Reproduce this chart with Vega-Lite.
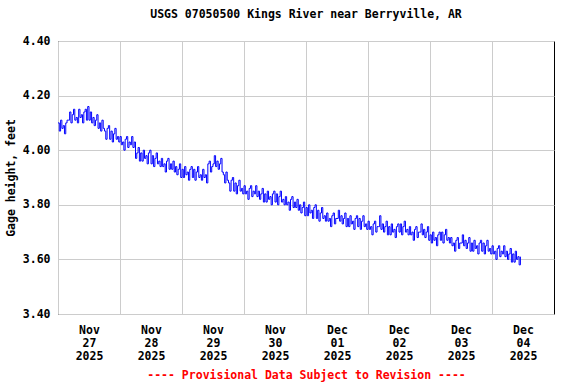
{
"$schema": "https://vega.github.io/schema/vega-lite/v6.json",
"width": 496, "height": 273,
"autosize": "none",
"padding": {"left": 58, "top": 41, "right": 22, "bottom": 70},
"background": "white",
"title": {"text": "USGS 07050500 Kings River near Berryville, AR", "font": "DejaVu Sans Mono", "fontWeight": "bold", "fontSize": 11.5, "color": "black", "anchor": "middle", "offset": 15},
"config": {"view": {"stroke": "black", "strokeWidth": 1}},
"data": {"values": [
{"t":"2025-11-27T00:00","v":4.10},{"t":"2025-11-27T00:30","v":4.07},{"t":"2025-11-27T01:00","v":4.11},{"t":"2025-11-27T01:30","v":4.08},{"t":"2025-11-27T02:00","v":4.09},{"t":"2025-11-27T02:30","v":4.06},{"t":"2025-11-27T03:00","v":4.10},{"t":"2025-11-27T03:30","v":4.11},
{"t":"2025-11-27T04:00","v":4.11},{"t":"2025-11-27T04:30","v":4.14},{"t":"2025-11-27T05:00","v":4.10},{"t":"2025-11-27T05:30","v":4.13},{"t":"2025-11-27T06:00","v":4.15},{"t":"2025-11-27T06:30","v":4.11},{"t":"2025-11-27T07:00","v":4.12},{"t":"2025-11-27T07:30","v":4.10},
{"t":"2025-11-27T08:00","v":4.15},{"t":"2025-11-27T08:30","v":4.12},{"t":"2025-11-27T09:00","v":4.13},{"t":"2025-11-27T09:30","v":4.10},{"t":"2025-11-27T10:00","v":4.14},{"t":"2025-11-27T10:30","v":4.15},{"t":"2025-11-27T11:00","v":4.11},{"t":"2025-11-27T11:30","v":4.16},
{"t":"2025-11-27T12:00","v":4.11},{"t":"2025-11-27T12:30","v":4.14},{"t":"2025-11-27T13:00","v":4.10},{"t":"2025-11-27T13:30","v":4.12},{"t":"2025-11-27T14:00","v":4.09},{"t":"2025-11-27T14:30","v":4.11},{"t":"2025-11-27T15:00","v":4.13},{"t":"2025-11-27T15:30","v":4.08},
{"t":"2025-11-27T16:00","v":4.10},{"t":"2025-11-27T16:30","v":4.07},{"t":"2025-11-27T17:00","v":4.11},{"t":"2025-11-27T17:30","v":4.08},{"t":"2025-11-27T18:00","v":4.07},{"t":"2025-11-27T18:30","v":4.04},{"t":"2025-11-27T19:00","v":4.08},{"t":"2025-11-27T19:30","v":4.09},
{"t":"2025-11-27T20:00","v":4.04},{"t":"2025-11-27T20:30","v":4.07},{"t":"2025-11-27T21:00","v":4.03},{"t":"2025-11-27T21:30","v":4.06},{"t":"2025-11-27T22:00","v":4.08},{"t":"2025-11-27T22:30","v":4.04},{"t":"2025-11-27T23:00","v":4.05},{"t":"2025-11-27T23:30","v":4.03},
{"t":"2025-11-28T00:00","v":4.05},{"t":"2025-11-28T00:30","v":4.02},{"t":"2025-11-28T01:00","v":4.03},{"t":"2025-11-28T01:30","v":4.00},{"t":"2025-11-28T02:00","v":4.04},{"t":"2025-11-28T02:30","v":4.05},{"t":"2025-11-28T03:00","v":4.01},{"t":"2025-11-28T03:30","v":4.03},
{"t":"2025-11-28T04:00","v":4.02},{"t":"2025-11-28T04:30","v":4.05},{"t":"2025-11-28T05:00","v":4.01},{"t":"2025-11-28T05:30","v":4.03},{"t":"2025-11-28T06:00","v":3.97},{"t":"2025-11-28T06:30","v":3.99},{"t":"2025-11-28T07:00","v":4.01},{"t":"2025-11-28T07:30","v":3.96},
{"t":"2025-11-28T08:00","v":3.99},{"t":"2025-11-28T08:30","v":3.96},{"t":"2025-11-28T09:00","v":4.00},{"t":"2025-11-28T09:30","v":3.97},{"t":"2025-11-28T10:00","v":3.98},{"t":"2025-11-28T10:30","v":3.95},{"t":"2025-11-28T11:00","v":3.99},{"t":"2025-11-28T11:30","v":4.00},
{"t":"2025-11-28T12:00","v":3.95},{"t":"2025-11-28T12:30","v":3.98},{"t":"2025-11-28T13:00","v":3.94},{"t":"2025-11-28T13:30","v":3.97},{"t":"2025-11-28T14:00","v":3.99},{"t":"2025-11-28T14:30","v":3.95},{"t":"2025-11-28T15:00","v":3.96},{"t":"2025-11-28T15:30","v":3.94},
{"t":"2025-11-28T16:00","v":3.97},{"t":"2025-11-28T16:30","v":3.94},{"t":"2025-11-28T17:00","v":3.95},{"t":"2025-11-28T17:30","v":3.92},{"t":"2025-11-28T18:00","v":3.96},{"t":"2025-11-28T18:30","v":3.97},{"t":"2025-11-28T19:00","v":3.93},{"t":"2025-11-28T19:30","v":3.95},
{"t":"2025-11-28T20:00","v":3.93},{"t":"2025-11-28T20:30","v":3.96},{"t":"2025-11-28T21:00","v":3.92},{"t":"2025-11-28T21:30","v":3.94},{"t":"2025-11-28T22:00","v":3.91},{"t":"2025-11-28T22:30","v":3.93},{"t":"2025-11-28T23:00","v":3.95},{"t":"2025-11-28T23:30","v":3.90},
{"t":"2025-11-29T00:00","v":3.93},{"t":"2025-11-29T00:30","v":3.90},{"t":"2025-11-29T01:00","v":3.94},{"t":"2025-11-29T01:30","v":3.91},{"t":"2025-11-29T02:00","v":3.92},{"t":"2025-11-29T02:30","v":3.89},{"t":"2025-11-29T03:00","v":3.93},{"t":"2025-11-29T03:30","v":3.94},
{"t":"2025-11-29T04:00","v":3.90},{"t":"2025-11-29T04:30","v":3.93},{"t":"2025-11-29T05:00","v":3.89},{"t":"2025-11-29T05:30","v":3.92},{"t":"2025-11-29T06:00","v":3.94},{"t":"2025-11-29T06:30","v":3.90},{"t":"2025-11-29T07:00","v":3.91},{"t":"2025-11-29T07:30","v":3.89},
{"t":"2025-11-29T08:00","v":3.93},{"t":"2025-11-29T08:30","v":3.90},{"t":"2025-11-29T09:00","v":3.91},{"t":"2025-11-29T09:30","v":3.88},{"t":"2025-11-29T10:00","v":3.95},{"t":"2025-11-29T10:30","v":3.96},{"t":"2025-11-29T11:00","v":3.92},{"t":"2025-11-29T11:30","v":3.94},
{"t":"2025-11-29T12:00","v":3.95},{"t":"2025-11-29T12:30","v":3.98},{"t":"2025-11-29T13:00","v":3.94},{"t":"2025-11-29T13:30","v":3.96},{"t":"2025-11-29T14:00","v":3.93},{"t":"2025-11-29T14:30","v":3.95},{"t":"2025-11-29T15:00","v":3.97},{"t":"2025-11-29T15:30","v":3.92},
{"t":"2025-11-29T16:00","v":3.91},{"t":"2025-11-29T16:30","v":3.88},{"t":"2025-11-29T17:00","v":3.92},{"t":"2025-11-29T17:30","v":3.89},{"t":"2025-11-29T18:00","v":3.88},{"t":"2025-11-29T18:30","v":3.85},{"t":"2025-11-29T19:00","v":3.89},{"t":"2025-11-29T19:30","v":3.90},
{"t":"2025-11-29T20:00","v":3.85},{"t":"2025-11-29T20:30","v":3.88},{"t":"2025-11-29T21:00","v":3.84},{"t":"2025-11-29T21:30","v":3.87},{"t":"2025-11-29T22:00","v":3.89},{"t":"2025-11-29T22:30","v":3.85},{"t":"2025-11-29T23:00","v":3.86},{"t":"2025-11-29T23:30","v":3.84},
{"t":"2025-11-30T00:00","v":3.87},{"t":"2025-11-30T00:30","v":3.84},{"t":"2025-11-30T01:00","v":3.85},{"t":"2025-11-30T01:30","v":3.82},{"t":"2025-11-30T02:00","v":3.86},{"t":"2025-11-30T02:30","v":3.87},{"t":"2025-11-30T03:00","v":3.83},{"t":"2025-11-30T03:30","v":3.85},
{"t":"2025-11-30T04:00","v":3.84},{"t":"2025-11-30T04:30","v":3.87},{"t":"2025-11-30T05:00","v":3.83},{"t":"2025-11-30T05:30","v":3.85},{"t":"2025-11-30T06:00","v":3.82},{"t":"2025-11-30T06:30","v":3.84},{"t":"2025-11-30T07:00","v":3.86},{"t":"2025-11-30T07:30","v":3.81},
{"t":"2025-11-30T08:00","v":3.84},{"t":"2025-11-30T08:30","v":3.81},{"t":"2025-11-30T09:00","v":3.85},{"t":"2025-11-30T09:30","v":3.82},{"t":"2025-11-30T10:00","v":3.83},{"t":"2025-11-30T10:30","v":3.80},{"t":"2025-11-30T11:00","v":3.84},{"t":"2025-11-30T11:30","v":3.85},
{"t":"2025-11-30T12:00","v":3.81},{"t":"2025-11-30T12:30","v":3.84},{"t":"2025-11-30T13:00","v":3.80},{"t":"2025-11-30T13:30","v":3.83},{"t":"2025-11-30T14:00","v":3.85},{"t":"2025-11-30T14:30","v":3.81},{"t":"2025-11-30T15:00","v":3.82},{"t":"2025-11-30T15:30","v":3.80},
{"t":"2025-11-30T16:00","v":3.83},{"t":"2025-11-30T16:30","v":3.80},{"t":"2025-11-30T17:00","v":3.81},{"t":"2025-11-30T17:30","v":3.78},{"t":"2025-11-30T18:00","v":3.82},{"t":"2025-11-30T18:30","v":3.83},{"t":"2025-11-30T19:00","v":3.79},{"t":"2025-11-30T19:30","v":3.81},
{"t":"2025-11-30T20:00","v":3.79},{"t":"2025-11-30T20:30","v":3.82},{"t":"2025-11-30T21:00","v":3.78},{"t":"2025-11-30T21:30","v":3.80},{"t":"2025-11-30T22:00","v":3.77},{"t":"2025-11-30T22:30","v":3.79},{"t":"2025-11-30T23:00","v":3.81},{"t":"2025-11-30T23:30","v":3.76},
{"t":"2025-12-01T00:00","v":3.79},{"t":"2025-12-01T00:30","v":3.76},{"t":"2025-12-01T01:00","v":3.80},{"t":"2025-12-01T01:30","v":3.77},{"t":"2025-12-01T02:00","v":3.78},{"t":"2025-12-01T02:30","v":3.75},{"t":"2025-12-01T03:00","v":3.79},{"t":"2025-12-01T03:30","v":3.80},
{"t":"2025-12-01T04:00","v":3.75},{"t":"2025-12-01T04:30","v":3.78},{"t":"2025-12-01T05:00","v":3.74},{"t":"2025-12-01T05:30","v":3.77},{"t":"2025-12-01T06:00","v":3.79},{"t":"2025-12-01T06:30","v":3.75},{"t":"2025-12-01T07:00","v":3.76},{"t":"2025-12-01T07:30","v":3.74},
{"t":"2025-12-01T08:00","v":3.77},{"t":"2025-12-01T08:30","v":3.74},{"t":"2025-12-01T09:00","v":3.75},{"t":"2025-12-01T09:30","v":3.72},{"t":"2025-12-01T10:00","v":3.76},{"t":"2025-12-01T10:30","v":3.77},{"t":"2025-12-01T11:00","v":3.73},{"t":"2025-12-01T11:30","v":3.75},
{"t":"2025-12-01T12:00","v":3.75},{"t":"2025-12-01T12:30","v":3.78},{"t":"2025-12-01T13:00","v":3.74},{"t":"2025-12-01T13:30","v":3.76},{"t":"2025-12-01T14:00","v":3.73},{"t":"2025-12-01T14:30","v":3.75},{"t":"2025-12-01T15:00","v":3.77},{"t":"2025-12-01T15:30","v":3.72},
{"t":"2025-12-01T16:00","v":3.75},{"t":"2025-12-01T16:30","v":3.72},{"t":"2025-12-01T17:00","v":3.76},{"t":"2025-12-01T17:30","v":3.73},{"t":"2025-12-01T18:00","v":3.74},{"t":"2025-12-01T18:30","v":3.71},{"t":"2025-12-01T19:00","v":3.75},{"t":"2025-12-01T19:30","v":3.76},
{"t":"2025-12-01T20:00","v":3.72},{"t":"2025-12-01T20:30","v":3.75},{"t":"2025-12-01T21:00","v":3.71},{"t":"2025-12-01T21:30","v":3.74},{"t":"2025-12-01T22:00","v":3.76},{"t":"2025-12-01T22:30","v":3.72},{"t":"2025-12-01T23:00","v":3.73},{"t":"2025-12-01T23:30","v":3.71},
{"t":"2025-12-02T00:00","v":3.74},{"t":"2025-12-02T00:30","v":3.71},{"t":"2025-12-02T01:00","v":3.72},{"t":"2025-12-02T01:30","v":3.69},{"t":"2025-12-02T02:00","v":3.73},{"t":"2025-12-02T02:30","v":3.74},{"t":"2025-12-02T03:00","v":3.70},{"t":"2025-12-02T03:30","v":3.72},
{"t":"2025-12-02T04:00","v":3.72},{"t":"2025-12-02T04:30","v":3.76},{"t":"2025-12-02T05:00","v":3.71},{"t":"2025-12-02T05:30","v":3.73},{"t":"2025-12-02T06:00","v":3.70},{"t":"2025-12-02T06:30","v":3.72},{"t":"2025-12-02T07:00","v":3.74},{"t":"2025-12-02T07:30","v":3.69},
{"t":"2025-12-02T08:00","v":3.72},{"t":"2025-12-02T08:30","v":3.69},{"t":"2025-12-02T09:00","v":3.73},{"t":"2025-12-02T09:30","v":3.70},{"t":"2025-12-02T10:00","v":3.71},{"t":"2025-12-02T10:30","v":3.68},{"t":"2025-12-02T11:00","v":3.72},{"t":"2025-12-02T11:30","v":3.73},
{"t":"2025-12-02T12:00","v":3.70},{"t":"2025-12-02T12:30","v":3.73},{"t":"2025-12-02T13:00","v":3.69},{"t":"2025-12-02T13:30","v":3.72},{"t":"2025-12-02T14:00","v":3.74},{"t":"2025-12-02T14:30","v":3.70},{"t":"2025-12-02T15:00","v":3.71},{"t":"2025-12-02T15:30","v":3.69},
{"t":"2025-12-02T16:00","v":3.72},{"t":"2025-12-02T16:30","v":3.69},{"t":"2025-12-02T17:00","v":3.70},{"t":"2025-12-02T17:30","v":3.67},{"t":"2025-12-02T18:00","v":3.71},{"t":"2025-12-02T18:30","v":3.72},{"t":"2025-12-02T19:00","v":3.68},{"t":"2025-12-02T19:30","v":3.70},
{"t":"2025-12-02T20:00","v":3.70},{"t":"2025-12-02T20:30","v":3.73},{"t":"2025-12-02T21:00","v":3.69},{"t":"2025-12-02T21:30","v":3.71},{"t":"2025-12-02T22:00","v":3.68},{"t":"2025-12-02T22:30","v":3.70},{"t":"2025-12-02T23:00","v":3.72},{"t":"2025-12-02T23:30","v":3.67},
{"t":"2025-12-03T00:00","v":3.69},{"t":"2025-12-03T00:30","v":3.66},{"t":"2025-12-03T01:00","v":3.70},{"t":"2025-12-03T01:30","v":3.67},{"t":"2025-12-03T02:00","v":3.68},{"t":"2025-12-03T02:30","v":3.65},{"t":"2025-12-03T03:00","v":3.69},{"t":"2025-12-03T03:30","v":3.70},
{"t":"2025-12-03T04:00","v":3.67},{"t":"2025-12-03T04:30","v":3.70},{"t":"2025-12-03T05:00","v":3.66},{"t":"2025-12-03T05:30","v":3.69},{"t":"2025-12-03T06:00","v":3.71},{"t":"2025-12-03T06:30","v":3.67},{"t":"2025-12-03T07:00","v":3.68},{"t":"2025-12-03T07:30","v":3.66},
{"t":"2025-12-03T08:00","v":3.68},{"t":"2025-12-03T08:30","v":3.65},{"t":"2025-12-03T09:00","v":3.66},{"t":"2025-12-03T09:30","v":3.63},{"t":"2025-12-03T10:00","v":3.67},{"t":"2025-12-03T10:30","v":3.68},{"t":"2025-12-03T11:00","v":3.64},{"t":"2025-12-03T11:30","v":3.66},
{"t":"2025-12-03T12:00","v":3.66},{"t":"2025-12-03T12:30","v":3.69},{"t":"2025-12-03T13:00","v":3.65},{"t":"2025-12-03T13:30","v":3.67},{"t":"2025-12-03T14:00","v":3.64},{"t":"2025-12-03T14:30","v":3.66},{"t":"2025-12-03T15:00","v":3.68},{"t":"2025-12-03T15:30","v":3.63},
{"t":"2025-12-03T16:00","v":3.66},{"t":"2025-12-03T16:30","v":3.63},{"t":"2025-12-03T17:00","v":3.67},{"t":"2025-12-03T17:30","v":3.64},{"t":"2025-12-03T18:00","v":3.65},{"t":"2025-12-03T18:30","v":3.62},{"t":"2025-12-03T19:00","v":3.66},{"t":"2025-12-03T19:30","v":3.67},
{"t":"2025-12-03T20:00","v":3.63},{"t":"2025-12-03T20:30","v":3.66},{"t":"2025-12-03T21:00","v":3.62},{"t":"2025-12-03T21:30","v":3.65},{"t":"2025-12-03T22:00","v":3.67},{"t":"2025-12-03T22:30","v":3.63},{"t":"2025-12-03T23:00","v":3.64},{"t":"2025-12-03T23:30","v":3.62},
{"t":"2025-12-04T00:00","v":3.65},{"t":"2025-12-04T00:30","v":3.62},{"t":"2025-12-04T01:00","v":3.63},{"t":"2025-12-04T01:30","v":3.60},{"t":"2025-12-04T02:00","v":3.64},{"t":"2025-12-04T02:30","v":3.65},{"t":"2025-12-04T03:00","v":3.61},{"t":"2025-12-04T03:30","v":3.63},
{"t":"2025-12-04T04:00","v":3.62},{"t":"2025-12-04T04:30","v":3.65},{"t":"2025-12-04T05:00","v":3.61},{"t":"2025-12-04T05:30","v":3.63},{"t":"2025-12-04T06:00","v":3.60},{"t":"2025-12-04T06:30","v":3.62},{"t":"2025-12-04T07:00","v":3.64},{"t":"2025-12-04T07:30","v":3.59},
{"t":"2025-12-04T08:00","v":3.62},{"t":"2025-12-04T08:30","v":3.59},{"t":"2025-12-04T09:00","v":3.63},{"t":"2025-12-04T09:30","v":3.60},{"t":"2025-12-04T10:00","v":3.61},{"t":"2025-12-04T10:30","v":3.58},{"t":"2025-12-04T11:00","v":3.61}
]},
"mark": {"type": "line", "color": "#0000FF", "strokeWidth": 1, "interpolate": "step-after"},
"encoding": {
"x": {"field": "t", "type": "temporal",
"scale": {"domain": [{"year": 2025, "month": 11, "date": 27}, {"year": 2025, "month": 12, "date": 5}]},
"axis": {"values": [{"year": 2025, "month": 11, "date": 27}, {"year": 2025, "month": 11, "date": 28}, {"year": 2025, "month": 11, "date": 29}, {"year": 2025, "month": 11, "date": 30}, {"year": 2025, "month": 12, "date": 1}, {"year": 2025, "month": 12, "date": 2}, {"year": 2025, "month": 12, "date": 3}, {"year": 2025, "month": 12, "date": 4}],
"labelExpr": "[timeFormat(datum.value, '%b'), timeFormat(datum.value, '%d'), timeFormat(datum.value, '%Y')]",
"labelOffset": 31, "labelLineHeight": 13, "labelBaseline": "top", "labelPadding": 10, "labelAlign": "center",
"labelFont": "DejaVu Sans Mono", "labelFontWeight": "bold", "labelFontSize": 11.5, "labelColor": "black",
"labelOverlap": false, "labelFlush": false, "labelBound": false,
"ticks": false, "domain": false, "grid": true, "gridColor": "#CCCCCC", "gridWidth": 1,
"title": "---- Provisional Data Subject to Revision ----", "titleColor": "#FF0000", "titleFont": "DejaVu Sans Mono", "titleFontWeight": "bold", "titleFontSize": 11.5, "titlePadding": 8}},
"y": {"field": "v", "type": "quantitative",
"scale": {"domain": [3.4, 4.4], "nice": false, "zero": false},
"axis": {"values": [3.4, 3.6, 3.8, 4.0, 4.2, 4.4], "format": ".2f",
"labelFont": "DejaVu Sans Mono", "labelFontWeight": "bold", "labelFontSize": 11.5, "labelColor": "black", "labelPadding": 8,
"ticks": false, "domain": false, "grid": true, "gridColor": "#CCCCCC", "gridWidth": 1,
"title": "Gage height, feet", "titleFont": "DejaVu Sans Mono", "titleFontWeight": "bold", "titleFontSize": 11.5, "titleColor": "black", "titlePadding": 6}}
}
}
